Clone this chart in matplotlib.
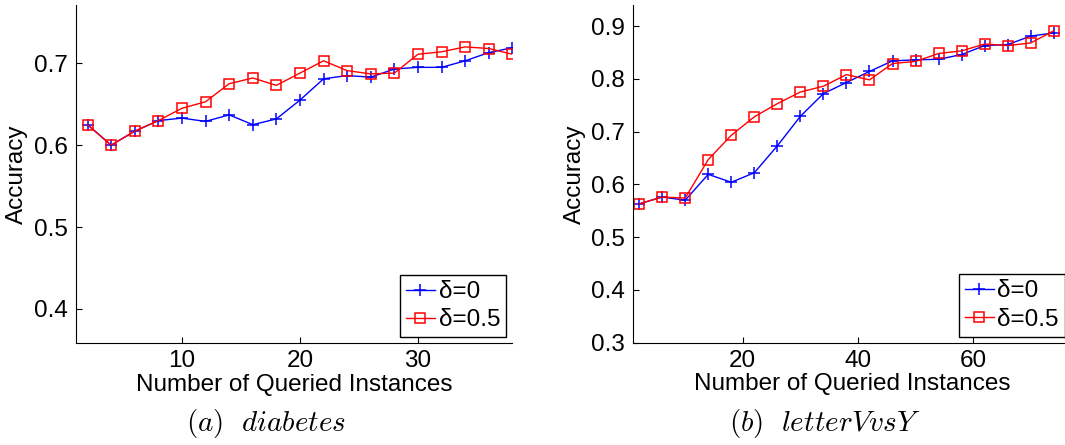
import matplotlib
matplotlib.use("Agg")
import matplotlib.pyplot as plt

plt.rcParams["font.family"] = ["Liberation Sans", "DejaVu Sans"]
plt.rcParams["mathtext.fontset"] = "cm"

# diabetes
X_DIAB = [2, 4, 6, 8, 10, 12, 14, 16, 18, 20, 22, 24, 26, 28, 30, 32, 34, 36, 38]
DIAB_D0 = [0.625, 0.600, 0.617, 0.630, 0.633, 0.629, 0.637, 0.625, 0.632, 0.655,
           0.681, 0.685, 0.683, 0.693, 0.695, 0.695, 0.703, 0.713, 0.719]
DIAB_D05 = [0.625, 0.600, 0.617, 0.630, 0.645, 0.653, 0.675, 0.682, 0.673, 0.688,
            0.703, 0.691, 0.687, 0.688, 0.711, 0.714, 0.720, 0.718, 0.711]

# letter V vs Y
X_LET = [2, 6, 10, 14, 18, 22, 26, 30, 34, 38, 42, 46, 50, 54, 58, 62, 66, 70, 74]
LET_D0 = [0.563, 0.576, 0.570, 0.619, 0.604, 0.622, 0.673, 0.729, 0.772, 0.793,
          0.814, 0.834, 0.836, 0.837, 0.846, 0.863, 0.865, 0.881, 0.887]
LET_D05 = [0.563, 0.576, 0.574, 0.647, 0.693, 0.728, 0.753, 0.775, 0.786, 0.808,
           0.798, 0.829, 0.833, 0.848, 0.853, 0.866, 0.863, 0.868, 0.891]

LABELS = ["\u03b4=0", "\u03b4=0.5"]
FS = 17.5

fig = plt.figure(figsize=(10.65, 4.45), dpi=100)
ax1 = fig.add_axes([0.0711, 0.2285, 0.41, 0.760])
ax2 = fig.add_axes([0.5947, 0.2299, 0.411, 0.759])


def draw(ax, x, y0, y05, xlim, ylim, yticks, xticks):
    ax.plot(x, y0, color="blue", lw=1, marker="+", ms=9, mew=1.1, label=LABELS[0])
    ax.plot(x, y05, color="red", lw=1, marker="s", ms=6.5, mfc="none", mew=1.1,
            label=LABELS[1])
    ax.set_xlim(*xlim)
    ax.set_ylim(*ylim)
    ax.set_xticks(xticks)
    ax.set_yticks(yticks)
    ax.set_yticklabels([f"{t:g}" for t in yticks])
    ax.spines["top"].set_visible(False)
    ax.spines["right"].set_visible(False)
    ax.tick_params(direction="in", length=4, labelsize=FS, pad=6)
    ax.tick_params(axis="x", pad=5)
    ax.set_xlabel("Number of Queried Instances", fontsize=FS, labelpad=1)
    ax.set_ylabel("Accuracy", fontsize=FS, labelpad=4)
    leg = ax.legend(loc="lower right", fontsize=FS, fancybox=False, edgecolor="black",
                    handlelength=1.2, handletextpad=0.15, borderpad=0.25,
                    labelspacing=0.25, borderaxespad=0.25, framealpha=1)
    leg.get_frame().set_linewidth(1)


draw(ax1, X_DIAB, DIAB_D0, DIAB_D05, (1, 38), (0.358, 0.771),
     [0.4, 0.5, 0.6, 0.7], [10, 20, 30])
draw(ax2, X_LET, LET_D0, LET_D05, (1, 77), (0.3, 0.94),
     [0.3, 0.4, 0.5, 0.6, 0.7, 0.8, 0.9], [20, 40, 60])

fig.text(266 / 1065, 1 - 423 / 445, r"$(a)\ \ diabetes$", fontsize=21,
         ha="center", va="center")
fig.text(825 / 1065, 1 - 423 / 445, r"$(b)\ \ letterVvsY$", fontsize=21,
         ha="center", va="center")

fig.savefig("out.png", dpi=100)
